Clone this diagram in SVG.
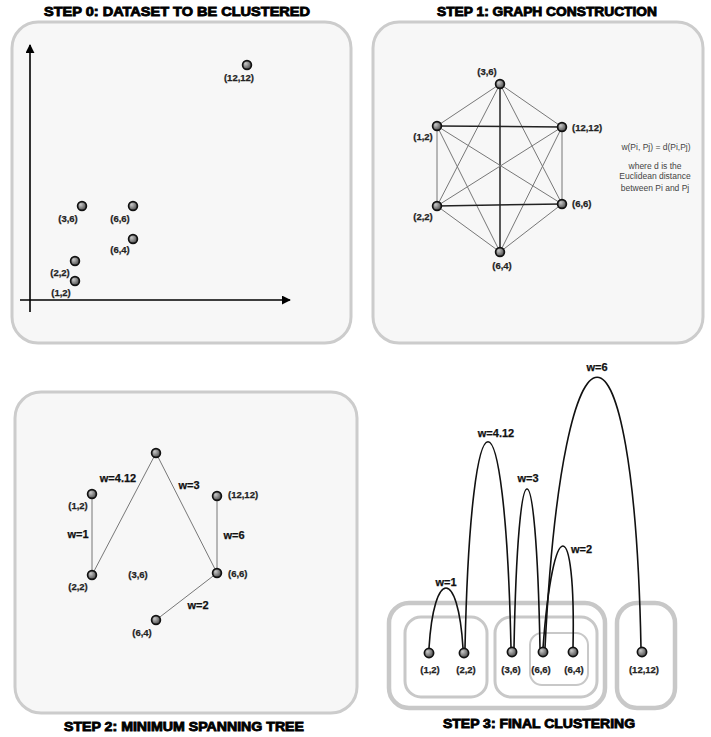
<svg xmlns="http://www.w3.org/2000/svg" width="711" height="737" viewBox="0 0 711 737">
<defs>
<radialGradient id="g" cx="0.35" cy="0.35" r="0.7">
<stop offset="0" stop-color="#c8c8c8"/>
<stop offset="1" stop-color="#4a4a4a"/>
</radialGradient>
<marker id="ar" viewBox="0 0 10 10" refX="9" refY="5" markerWidth="9" markerHeight="9" markerUnits="userSpaceOnUse" orient="auto">
<path d="M0 0 L10 5 L0 10 z" fill="#000"/>
</marker>
<style>
.panel{fill:#f7f7f7;stroke:#cccccc;stroke-width:3}
.nd{fill:url(#g);stroke:#111;stroke-width:1.7}
.lb{font-family:"Liberation Sans",Arial,sans-serif;font-size:9.5px;font-weight:bold;fill:#222;stroke:#222;stroke-width:0.25}
.wl{font-family:"Liberation Sans",Arial,sans-serif;font-size:11px;font-weight:bold;fill:#111;stroke:#111;stroke-width:0.25}
.ttl{font-family:"Liberation Sans",Arial,sans-serif;font-size:12px;font-weight:bold;fill:#000;stroke:#000;stroke-width:0.8}
.note{font-family:"Liberation Sans",Arial,sans-serif;font-size:8.5px;fill:#444}
.e1{stroke:#777;stroke-width:1;fill:none}
.e1h{stroke:#222;stroke-width:1.5;fill:none}
.arc{stroke:#111;stroke-width:1.6;fill:none}
.cl{fill:none;stroke:#c8c8c8}
</style>
</defs>
<rect width="711" height="737" fill="#fff"/>

<!-- Titles -->
<g id="titles">
<text class="ttl" x="177" y="16" text-anchor="middle" textLength="266" lengthAdjust="spacingAndGlyphs">STEP 0: DATASET TO BE CLUSTERED</text>
<text class="ttl" x="547" y="16" text-anchor="middle" textLength="220" lengthAdjust="spacingAndGlyphs">STEP 1: GRAPH CONSTRUCTION</text>
<text class="ttl" x="184" y="731" text-anchor="middle" textLength="240" lengthAdjust="spacingAndGlyphs">STEP 2: MINIMUM SPANNING TREE</text>
<text class="ttl" x="539" y="728" text-anchor="middle" textLength="192" lengthAdjust="spacingAndGlyphs">STEP 3: FINAL CLUSTERING</text>
</g>

<!-- Panel 0 -->
<g id="panel0">
<rect class="panel" x="12" y="22" width="339" height="321" rx="26"/>
<line x1="30" y1="312" x2="30" y2="45" stroke="#000" stroke-width="1.6" marker-end="url(#ar)"/>
<line x1="20" y1="300" x2="290" y2="300" stroke="#000" stroke-width="1.6" marker-end="url(#ar)"/>
<g id="p0-12-12"><circle class="nd" cx="247" cy="65" r="4.4"/><text class="lb" x="239" y="81" text-anchor="middle">(12,12)</text></g>
<g id="p0-3-6"><circle class="nd" cx="82" cy="206" r="4.4"/><text class="lb" x="68" y="222" text-anchor="middle">(3,6)</text></g>
<g id="p0-6-6"><circle class="nd" cx="133" cy="206" r="4.4"/><text class="lb" x="120" y="222" text-anchor="middle">(6,6)</text></g>
<g id="p0-6-4"><circle class="nd" cx="133" cy="239" r="4.4"/><text class="lb" x="120" y="253" text-anchor="middle">(6,4)</text></g>
<g id="p0-2-2"><circle class="nd" cx="75" cy="261" r="4.4"/><text class="lb" x="60" y="276" text-anchor="middle">(2,2)</text></g>
<g id="p0-1-2"><circle class="nd" cx="75" cy="281" r="4.4"/><text class="lb" x="61" y="296" text-anchor="middle">(1,2)</text></g>
</g>

<!-- Panel 1 -->
<g id="panel1">
<rect class="panel" x="373" y="22" width="330" height="321" rx="26"/>
<g id="p1-edges">
<line class="e1" x1="500" y1="84" x2="437" y2="126"/>
<line class="e1" x1="500" y1="84" x2="562" y2="127"/>
<line class="e1" x1="500" y1="84" x2="437" y2="206"/>
<line class="e1" x1="500" y1="84" x2="562" y2="204"/>
<line class="e1h" x1="500" y1="84" x2="500" y2="252"/>
<line class="e1h" x1="437" y1="126" x2="562" y2="127"/>
<line class="e1" x1="437" y1="126" x2="437" y2="206"/>
<line class="e1" x1="437" y1="126" x2="562" y2="204"/>
<line class="e1" x1="437" y1="126" x2="500" y2="252"/>
<line class="e1" x1="562" y1="127" x2="437" y2="206"/>
<line class="e1" x1="562" y1="127" x2="562" y2="204"/>
<line class="e1" x1="562" y1="127" x2="500" y2="252"/>
<line class="e1h" x1="437" y1="206" x2="562" y2="204"/>
<line class="e1" x1="437" y1="206" x2="500" y2="252"/>
<line class="e1" x1="562" y1="204" x2="500" y2="252"/>
</g>
<g id="p1-3-6"><circle class="nd" cx="500" cy="84" r="4.4"/><text class="lb" x="487" y="75" text-anchor="middle">(3,6)</text></g>
<g id="p1-1-2"><circle class="nd" cx="437" cy="126" r="4.4"/><text class="lb" x="423" y="140" text-anchor="middle">(1,2)</text></g>
<g id="p1-12-12"><circle class="nd" cx="562" cy="127" r="4.4"/><text class="lb" x="572" y="131">(12,12)</text></g>
<g id="p1-2-2"><circle class="nd" cx="437" cy="206" r="4.4"/><text class="lb" x="423" y="220" text-anchor="middle">(2,2)</text></g>
<g id="p1-6-6"><circle class="nd" cx="562" cy="204" r="4.4"/><text class="lb" x="572" y="207">(6,6)</text></g>
<g id="p1-6-4"><circle class="nd" cx="500" cy="252" r="4.4"/><text class="lb" x="502" y="269" text-anchor="middle">(6,4)</text></g>
<g id="p1-note">
<text class="note" x="656" y="150" text-anchor="middle">w(Pi, Pj) = d(Pi,Pj)</text>
<text class="note" x="655" y="169" text-anchor="middle">where d is the</text>
<text class="note" x="655" y="179" text-anchor="middle">Euclidean distance</text>
<text class="note" x="655" y="191" text-anchor="middle">between Pi and Pj</text>
</g>
</g>

<!-- Panel 2 -->
<g id="panel2">
<rect class="panel" x="15" y="392" width="342" height="321" rx="26"/>
<g id="p2-edges">
<line class="e1" x1="92" y1="494" x2="92" y2="575"/>
<line class="e1" x1="92" y1="575" x2="156" y2="453"/>
<line class="e1" x1="156" y1="453" x2="217" y2="573"/>
<line class="e1" x1="217" y1="496" x2="217" y2="573"/>
<line class="e1" x1="217" y1="573" x2="156" y2="620"/>
<text class="wl" x="118" y="482" text-anchor="middle">w=4.12</text>
<text class="wl" x="189" y="489" text-anchor="middle">w=3</text>
<text class="wl" x="78" y="538" text-anchor="middle">w=1</text>
<text class="wl" x="234" y="539" text-anchor="middle">w=6</text>
<text class="wl" x="198" y="609" text-anchor="middle">w=2</text>
</g>
<g id="p2-3-6"><circle class="nd" cx="156" cy="453" r="4.4"/><text class="lb" x="138" y="578" text-anchor="middle">(3,6)</text></g>
<g id="p2-1-2"><circle class="nd" cx="92" cy="494" r="4.4"/><text class="lb" x="78" y="509" text-anchor="middle">(1,2)</text></g>
<g id="p2-12-12"><circle class="nd" cx="217" cy="496" r="4.4"/><text class="lb" x="228" y="498">(12,12)</text></g>
<g id="p2-2-2"><circle class="nd" cx="92" cy="575" r="4.4"/><text class="lb" x="78" y="590" text-anchor="middle">(2,2)</text></g>
<g id="p2-6-6"><circle class="nd" cx="217" cy="573" r="4.4"/><text class="lb" x="228" y="577">(6,6)</text></g>
<g id="p2-6-4"><circle class="nd" cx="156" cy="620" r="4.4"/><text class="lb" x="142" y="636" text-anchor="middle">(6,4)</text></g>
</g>

<!-- Panel 3 -->
<g id="panel3">
<g id="clusters">
<rect class="cl" x="389" y="603" width="216" height="105" rx="20" stroke-width="4.5"/>
<rect class="cl" x="405" y="617" width="82" height="80" rx="16" stroke-width="3"/>
<rect class="cl" x="495" y="617" width="102" height="80" rx="16" stroke-width="3"/>
<rect class="cl" x="530" y="633" width="58" height="52" rx="12" stroke-width="2"/>
<rect class="cl" x="617" y="603" width="58" height="105" rx="20" stroke-width="4.5"/>
</g>
<g id="p3-arcs">
<path class="arc" d="M429 648 C434 568 458 568 463 648"/>
<path class="arc" d="M465 648 C471 373 505 373 511 648"/>
<path class="arc" d="M514 648 C518 436 536 436 540 648"/>
<path class="arc" d="M543 648 C553 512 576 512 573 648"/>
<path class="arc" d="M545 648 C563 287 634 287 641 648"/>
<text class="wl" x="446" y="586" text-anchor="middle">w=1</text>
<text class="wl" x="496" y="437" text-anchor="middle">w=4.12</text>
<text class="wl" x="528" y="482" text-anchor="middle">w=3</text>
<text class="wl" x="571" y="553">w=2</text>
<text class="wl" x="597" y="371" text-anchor="middle">w=6</text>
</g>
<g id="p3-1-2"><circle class="nd" cx="429" cy="653" r="4.6"/><text class="lb" x="430" y="673" text-anchor="middle">(1,2)</text></g>
<g id="p3-2-2"><circle class="nd" cx="464" cy="653" r="4.6"/><text class="lb" x="466" y="673" text-anchor="middle">(2,2)</text></g>
<g id="p3-3-6"><circle class="nd" cx="512" cy="652" r="4.6"/><text class="lb" x="511" y="673" text-anchor="middle">(3,6)</text></g>
<g id="p3-6-6"><circle class="nd" cx="543" cy="652" r="4.6"/><text class="lb" x="541" y="673" text-anchor="middle">(6,6)</text></g>
<g id="p3-6-4"><circle class="nd" cx="573" cy="652" r="4.6"/><text class="lb" x="574" y="673" text-anchor="middle">(6,4)</text></g>
<g id="p3-12-12"><circle class="nd" cx="642" cy="652" r="4.6"/><text class="lb" x="644" y="673" text-anchor="middle">(12,12)</text></g>
</g>
</svg>
